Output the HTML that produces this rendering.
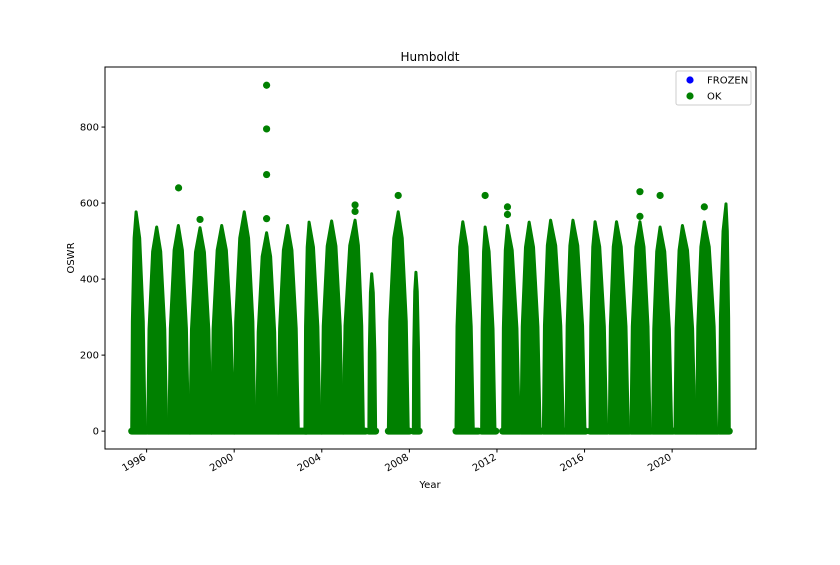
<!DOCTYPE html>
<html><head><meta charset="utf-8"><style>
body{margin:0;background:#fff;font-family:"Liberation Sans","DejaVu Sans",sans-serif;}
svg text{font-family:"DejaVu Sans","Liberation Sans",sans-serif;}
</style></head><body>
<svg id="chart" width="840" height="560" xmlns="http://www.w3.org/2000/svg"></svg>
<script>
// season data: start, peak time, end (decimal years), peak value
const seasonStart=[1995.32,1996.05,1997.02,1997.98,1998.97,2000.0,2001.03,2002.01,2003.23,2004.0,2004.98,2006.15,2007.04,2008.18,2010.13,2011.30,2012.26,2013.10,2014.12,2015.16,2016.25,2017.13,2018.12,2019.11,2020.13,2021.12,2022.16];
const seasonPeak=[1995.52,1996.46,1997.45,1998.44,1999.43,2000.46,2001.48,2002.44,2003.42,2004.45,2005.52,2006.28,2007.49,2008.3,2010.44,2011.46,2012.48,2013.47,2014.45,2015.47,2016.48,2017.46,2018.53,2019.45,2020.47,2021.47,2022.46];
const seasonEnd=[1995.93,1996.92,1997.91,1998.94,1999.96,2000.95,2001.94,2002.93,2003.92,2004.94,2005.9,2006.46,2007.95,2008.45,2010.92,2011.91,2013.02,2013.97,2015.03,2016.02,2017.01,2018.0,2018.99,2019.98,2021.05,2022.03,2022.61];
const seasonMax=[577,537,541,535,541,577,522,541,550,553,555,414,577,418,551,537,541,550,555,555,551,551,551,537,541,551,598];
const zeroEnd=[1996.0,1997.0,1997.98,1998.97,2000.0,2001.0,2002.0,2003.31,2004.0,2004.98,2006.0,2006.46,2008.0,2008.45,2011.15,2011.95,2013.06,2014.05,2015.12,2016.05,2017.05,2018.05,2019.05,2020.05,2021.1,2022.1,2022.61];
const outlierX=[1997.46,1998.44,2001.48,2001.48,2001.48,2001.48,2005.52,2005.52,2007.49,2011.46,2012.48,2012.48,2018.53,2018.53,2019.45,2021.47];
const outlierY=[640,557,910,795,675,559,578,595,620,620,570,590,630,565,620,590];
const yTicks=[0,200,400,600,800];
const xTicks=[1996,2000,2004,2008,2012,2016,2020];

const NS="http://www.w3.org/2000/svg";
const svg=document.getElementById('chart');
const L=105,R=756,T=67,B=449;
const x0=1994.10,x1=2023.83,y0=-47,y1=958;
const sx=v=>L+(v-x0)/(x1-x0)*(R-L);
const sy=v=>B-(v-y0)/(y1-y0)*(B-T);
function mk(tag,attrs,parent){const e=document.createElementNS(NS,tag);for(const k in attrs)e.setAttribute(k,attrs[k]);(parent||svg).appendChild(e);return e;}
const G='#008000';

const frame=mk('rect',{x:L,y:T,width:R-L,height:B-T,fill:'#fff',stroke:'#000','stroke-width':1});



const g=mk('g',{});


for(let i=0;i<seasonStart.length;i++){
  const s=seasonStart[i],p=seasonPeak[i],e=seasonEnd[i],m=seasonMax[i];
  const pts=[[s,0],[s+0.15*(p-s),0.5*m],[s+0.55*(p-s),0.88*m],[p,m],[p+0.4*(e-p),0.88*m],[p+0.8*(e-p),0.5*m],[e,0]];
  const poly=mk('polygon',{points:pts.map(q=>sx(q[0])+','+sy(q[1])).join(' '),fill:G,stroke:G,'stroke-width':3,'stroke-linejoin':'round'},g);
  
  
  const z=mk('line',{x1:sx(s),y1:sy(0),x2:sx(zeroEnd[i]),y2:sy(0),stroke:G,'stroke-width':7,'stroke-linecap':'round'},g);
  
  
}
for(let i=0;i<outlierX.length;i++){
  const c=mk('circle',{cx:sx(outlierX[i]),cy:sy(outlierY[i]),r:3.6,fill:G},g);
  
  
}

yTicks.forEach(v=>{
  const y=sy(v);
  const t=mk('line',{x1:L-3.5,x2:L,y1:y,y2:y,stroke:'#000'});
  
  
  const l=mk('text',{x:L-6,y:y+3.5,'text-anchor':'end','font-size':10,fill:'#000'});
  l.textContent=v;
  
  
});
xTicks.forEach(v=>{
  const x=sx(v);
  const t=mk('line',{x1:x,x2:x,y1:B,y2:B+3.5,stroke:'#000'});
  
  
  const l=mk('text',{x:x,y:B+10,'text-anchor':'end','font-size':10,fill:'#000',transform:'rotate(-30 '+x+' '+(B+10)+')'});
  l.textContent=v;
  
  
});

const title=mk('text',{x:430,y:61,'text-anchor':'middle','font-size':12,fill:'#000'});
title.textContent='Humboldt';


const xl=mk('text',{x:430,y:488,'text-anchor':'middle','font-size':10,fill:'#000'});
xl.textContent='Year';


const yl=mk('text',{x:74,y:258,'text-anchor':'middle','font-size':10,fill:'#000',transform:'rotate(-90 74 258)'});
yl.textContent='OSWR';



const lg=mk('g',{});


mk('rect',{x:676,y:71,width:75,height:34,rx:2,fill:'#fff',stroke:'#ccc'},lg);
[['FROZEN','#0000ff',80],['OK',G,96]].forEach(d=>{
  const e=mk('g',{},lg);
  
  
  mk('circle',{cx:690,cy:d[2],r:3.6,fill:d[1]},e);
  const t=mk('text',{x:707,y:d[2]+3.5,'font-size':10,fill:'#000'},e);
  t.textContent=d[0];
});
</script>
</body></html>
